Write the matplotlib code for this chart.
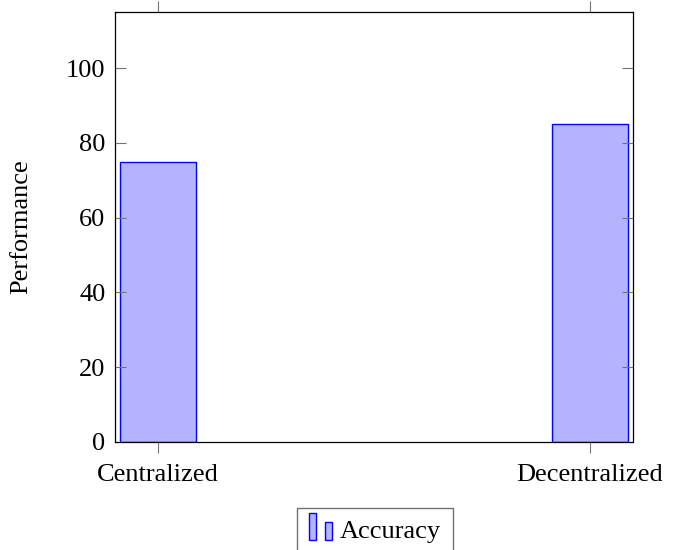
import matplotlib.pyplot as plt
from matplotlib.legend_handler import HandlerBase
from matplotlib.patches import Rectangle

categories = ["Centralized", "Decentralized"]
accuracy = [75, 85]
yticks = [0, 20, 40, 60, 80, 100]

fill = "#b3b3ff"
edge = "blue"


class TwoBarHandler(HandlerBase):
    # pgfplots style ybar legend image: two small bars
    def create_artists(self, legend, orig_handle, xdescent, ydescent,
                       width, height, fontsize, trans):
        w = width * 0.29
        y0 = -ydescent - 0.1 * height
        r1 = Rectangle((-xdescent, y0), w, height * 1.45,
                       facecolor=fill, edgecolor=edge, lw=1, transform=trans)
        r2 = Rectangle((-xdescent + width * 0.67, y0), w, height * 1.0,
                       facecolor=fill, edgecolor=edge, lw=1, transform=trans)
        return [r1, r2]


plt.rcParams["font.family"] = ["Liberation Serif", "DejaVu Serif"]

fig = plt.figure(figsize=(6.85, 5.5), dpi=100)
ax = fig.add_axes([115 / 685, 1 - 442 / 550, 518 / 685, 430 / 550])

x = list(range(len(categories)))
bars = ax.bar(x, accuracy, width=0.176, color=fill, edgecolor=edge, linewidth=1,
              label="Accuracy")

ax.set_xlim(-0.0995, 1.0995)
ax.set_ylim(0, 115)
ax.set_xticks(x)
ax.set_xticklabels(categories)
ax.set_yticks(yticks)

ax.tick_params(axis="x", direction="out", length=8, width=0.8, color="0.45",
               top=True, labelsize=19, pad=7.5)
ax.tick_params(axis="y", direction="in", length=8, width=0.8, color="0.45",
               right=True, labelsize=19, pad=7)
for s in ax.spines.values():
    s.set_linewidth(0.9)

ax.set_ylabel("Performance", fontsize=19)
ax.yaxis.set_label_coords(-0.16, 0.5)

leg = fig.legend(handles=[bars], labels=["Accuracy"], loc="upper center",
                 bbox_to_anchor=(375 / 685, 1 - 508 / 550), fontsize=19,
                 handler_map={type(bars): TwoBarHandler()},
                 frameon=True, fancybox=False, edgecolor="0.3",
                 handlelength=0.91, handletextpad=0.27, borderpad=0.45,
                 borderaxespad=0)
leg.get_frame().set_linewidth(1)

fig.savefig("out.png", dpi=100)
